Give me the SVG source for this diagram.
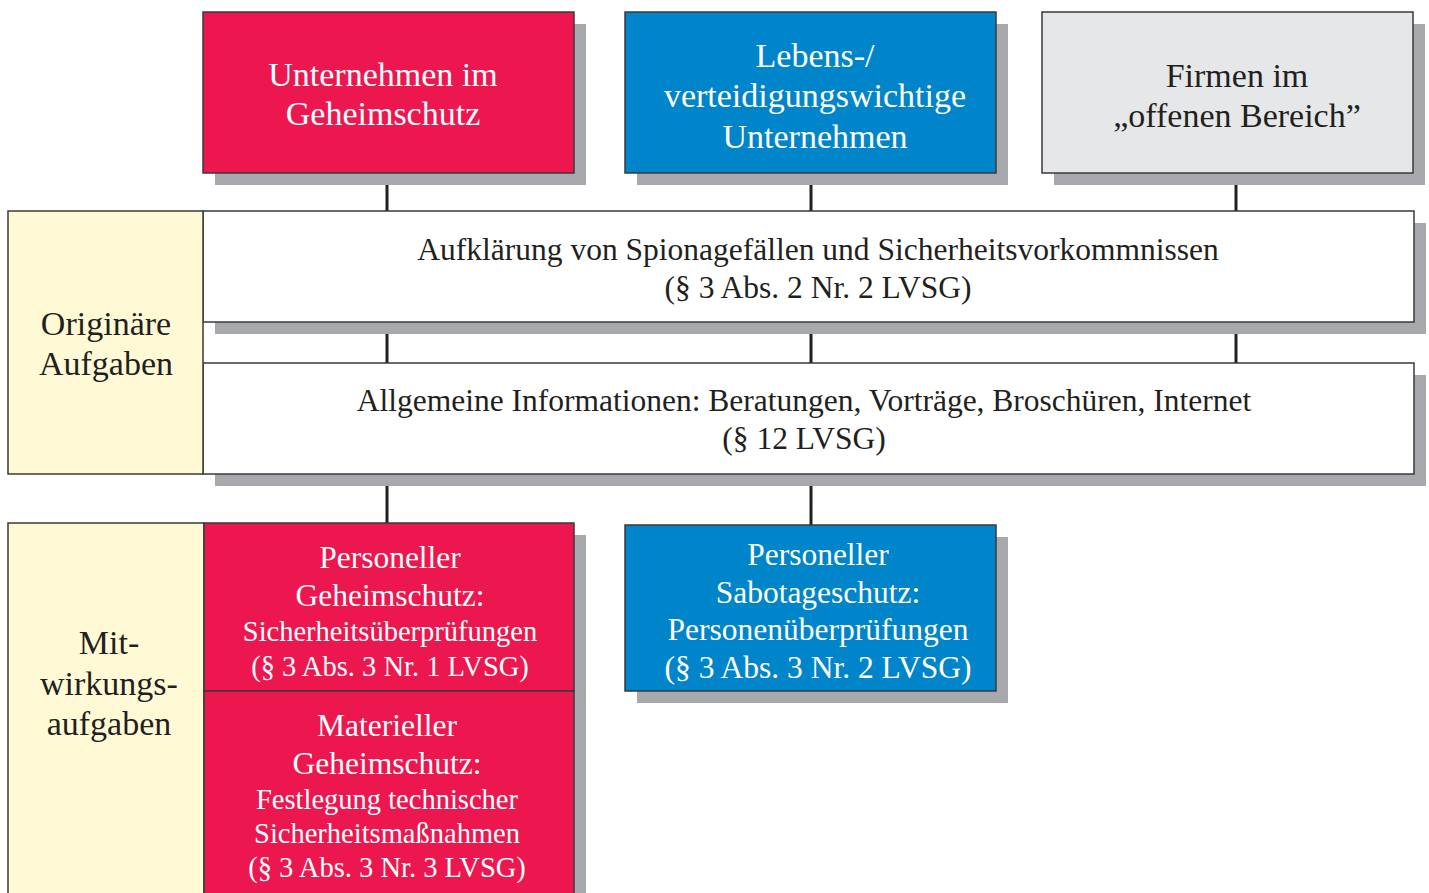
<svg xmlns="http://www.w3.org/2000/svg" width="1429" height="893" viewBox="0 0 1429 893">
<style>
.sh{fill:#a7a9ac}
.box{stroke:#3a3a3a;stroke-width:1.5}
.red{fill:#ec174f}
.blue{fill:#0085ca}
.grey{fill:#e6e7e8}
.white{fill:#ffffff}
.yel{fill:#fff9d6}
text{font-family:"Liberation Serif","Times New Roman",serif;text-anchor:middle}
.w{fill:#ffffff}
.k{fill:#231f20}
.t1{font-size:34px}
.t2{font-size:31.5px}
.t3{font-size:28.5px}
.con line{stroke:#231f20;stroke-width:3}
</style>
<rect width="1429" height="893" fill="#ffffff"/>
<g class="con">
<line x1="387" y1="173" x2="387" y2="211"/>
<line x1="811" y1="173" x2="811" y2="211"/>
<line x1="1236" y1="173" x2="1236" y2="211"/>
<line x1="387" y1="323" x2="387" y2="363"/>
<line x1="811" y1="323" x2="811" y2="363"/>
<line x1="1236" y1="323" x2="1236" y2="363"/>
<line x1="387" y1="474" x2="387" y2="523"/>
<line x1="811" y1="474" x2="811" y2="525"/>
</g>
<g id="n-geheimschutz">
<rect class="sh" x="215" y="24" width="371" height="161"/>
<rect class="box red" x="203" y="12" width="371" height="161"/>
<text class="w t1" x="383" y="86">Unternehmen im</text>
<text class="w t1" x="383" y="125">Geheimschutz</text>
</g>
<g id="n-lebenswichtig">
<rect class="sh" x="637" y="24" width="371" height="161"/>
<rect class="box blue" x="625" y="12" width="371" height="161"/>
<text class="w t1" x="815" y="67">Lebens-/</text>
<text class="w t1" x="815" y="107">verteidigungswichtige</text>
<text class="w t1" x="815" y="148">Unternehmen</text>
</g>
<g id="n-offen">
<rect class="sh" x="1054" y="24" width="371" height="161"/>
<rect class="box grey" x="1042" y="12" width="371" height="161"/>
<text class="k t1" x="1237" y="87">Firmen im</text>
<text class="k t1" x="1237" y="127">„offenen Bereich”</text>
</g>
<g id="n-aufklaerung">
<rect class="sh" x="215" y="223" width="1211" height="111"/>
<rect class="box white" x="203" y="211" width="1211" height="111"/>
<text class="k t2" x="818" y="260">Aufklärung von Spionagefällen und Sicherheitsvorkommnissen</text>
<text class="k t2" x="818" y="298">(§ 3 Abs. 2 Nr. 2 LVSG)</text>
</g>
<g id="n-information">
<rect class="sh" x="215" y="375" width="1211" height="111"/>
<rect class="box white" x="203" y="363" width="1211" height="111"/>
<text class="k t2" x="804" y="411">Allgemeine Informationen: Beratungen, Vorträge, Broschüren, Internet</text>
<text class="k t2" x="804" y="449">(§ 12 LVSG)</text>
</g>
<g id="n-originaere">
<rect class="box yel" x="8" y="211" width="195" height="263"/>
<text class="k t1" x="106" y="335">Originäre</text>
<text class="k t1" x="106" y="375">Aufgaben</text>
</g>
<g id="n-mitwirkung">
<rect class="sh" x="216" y="535" width="370" height="370"/>
<rect class="box yel" x="8" y="523" width="196" height="380"/>
<text class="k t1" x="109" y="654">Mit-</text>
<text class="k t1" x="109" y="695">wirkungs-</text>
<text class="k t1" x="109" y="735">aufgaben</text>
</g>
<g id="n-personeller-geheimschutz">
<rect class="box red" x="204" y="523" width="370" height="168"/>
<text class="w t2" x="390" y="568">Personeller</text>
<text class="w t2" x="390" y="606">Geheimschutz:</text>
<text class="w t3" x="390" y="641">Sicherheitsüberprüfungen</text>
<text class="w t3" x="390" y="676">(§ 3 Abs. 3 Nr. 1 LVSG)</text>
</g>
<g id="n-materieller-geheimschutz">
<rect class="box red" x="204" y="691" width="370" height="212"/>
<text class="w t2" x="387" y="736">Materieller</text>
<text class="w t2" x="387" y="774">Geheimschutz:</text>
<text class="w t3" x="387" y="809">Festlegung technischer</text>
<text class="w t3" x="387" y="843">Sicherheitsmaßnahmen</text>
<text class="w t3" x="387" y="877">(§ 3 Abs. 3 Nr. 3 LVSG)</text>
</g>
<g id="n-sabotageschutz">
<rect class="sh" x="637" y="537" width="371" height="166"/>
<rect class="box blue" x="625" y="525" width="371" height="166"/>
<text class="w t2" x="818" y="565">Personeller</text>
<text class="w t2" x="818" y="603">Sabotageschutz:</text>
<text class="w t2" x="818" y="640">Personenüberprüfungen</text>
<text class="w t2" x="818" y="678">(§ 3 Abs. 3 Nr. 2 LVSG)</text>
</g>
</svg>
